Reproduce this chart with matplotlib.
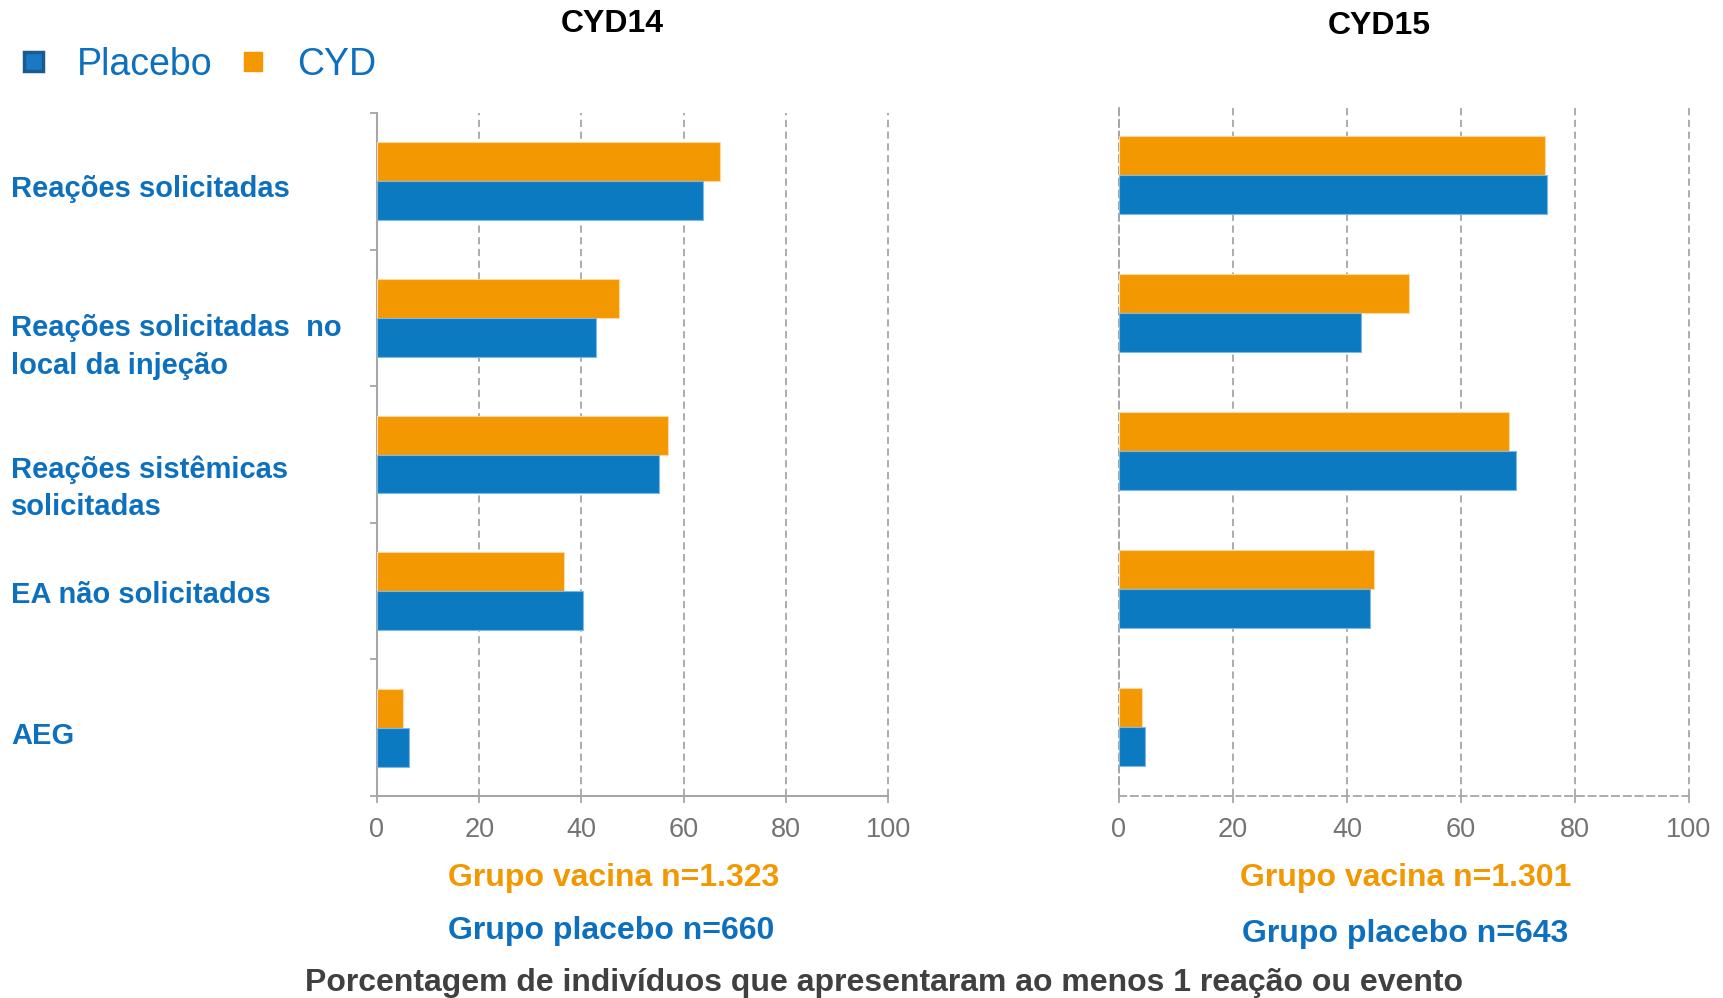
import matplotlib
matplotlib.use("Agg")
import matplotlib.pyplot as plt
import numpy as np
from matplotlib.patches import Patch

plt.rcParams['font.family'] = ['Liberation Sans', 'DejaVu Sans']

# data: % of subjects with at least 1 reaction / event
categories = ["Reações solicitadas",
              "Reações solicitadas  no\nlocal da injeção",
              "Reações sistêmicas\nsolicitadas",
              "EA não solicitados",
              "AEG"]
cyd14_vacina = [67.1, 47.4, 57.0, 36.6, 5.1]
cyd14_placebo = [63.7, 42.9, 55.2, 40.3, 6.3]
cyd15_vacina = [74.8, 50.8, 68.4, 44.7, 4.1]
cyd15_placebo = [75.1, 42.4, 69.6, 44.1, 4.5]
studies = ["CYD14", "CYD15"]
n_vacina = ["1.323", "1.301"]
n_placebo = ["660", "643"]
xticks = [0, 20, 40, 60, 80, 100]

ORANGE = "#f39800"
BLUE = "#0b7ac1"
LBLUE = "#0d70bf"
GRID = "#a6a6a6"
DASH = (0, (4, 2.5))

W, H = 1724, 998
fig = plt.figure(figsize=(W / 100, H / 100), dpi=100)


def px(x, y):
    return x / W, 1 - y / H


def ax_rect(x0, x1, ytop, ybot):
    return [x0 / W, 1 - ybot / H, (x1 - x0) / W, (ybot - ytop) / H]


ax1 = fig.add_axes(ax_rect(377, 888, 113, 796))
ax2 = fig.add_axes(ax_rect(1119, 1689, 106, 796))

pos = np.arange(len(categories))
h = 0.285

for ax, vac, plc in [(ax1, cyd14_vacina, cyd14_placebo), (ax2, cyd15_vacina, cyd15_placebo)]:
    ax.barh(pos - h / 2, vac, height=h, color=ORANGE, edgecolor="#fbd9a0", linewidth=0.8, zorder=3)
    ax.barh(pos + h / 2, plc, height=h, color=BLUE, edgecolor="#7fb8e2", linewidth=0.8, zorder=3)
    ax.set_xlim(0, 100)
    ax.set_ylim(len(categories) - 0.5, -0.5)
    ax.set_xticks(xticks)
    ax.xaxis.grid(True, color=GRID, linestyle=DASH, linewidth=1.3, zorder=0)
    for gl in ax.get_xgridlines():
        gl.set_clip_on(False)
    ax.tick_params(axis='x', colors=GRID, labelcolor="#737373", labelsize=19.5,
                   length=5, width=1.3, pad=10)
    for s in ["top", "right"]:
        ax.spines[s].set_visible(False)
    ax.set_facecolor("none")

# left panel: solid axis lines with ticks between categories
for s in ["left", "bottom"]:
    ax1.spines[s].set_color(GRID)
    ax1.spines[s].set_linewidth(1.5)
ax1.set_yticks(np.arange(len(categories) + 1) - 0.5)
ax1.set_yticklabels([])
ax1.tick_params(axis='y', colors=GRID, length=5, width=1.3)

# right panel: dashed axis lines, no y ticks
for s in ["left", "bottom"]:
    ax2.spines[s].set_color(GRID)
    ax2.spines[s].set_linewidth(1.3)
    ax2.spines[s].set_linestyle(DASH)
ax2.set_yticks([])

# category labels
label_y = [189, 347, 488, 595, 736]
for lab, yy in zip(categories, label_y):
    fig.text(*px(11, yy), lab, color=LBLUE, fontsize=21, fontweight="bold",
             ha="left", va="center", linespacing=1.42)

# panel titles
fig.text(*px(612, 24), studies[0], fontsize=23, fontweight="bold", ha="center", va="center")
fig.text(*px(1379, 26), studies[1], fontsize=23, fontweight="bold", ha="center", va="center")

# group sizes under each panel
fig.text(*px(614, 878), "Grupo vacina n=" + n_vacina[0], color=ORANGE, fontsize=23,
         fontweight="bold", ha="center", va="center")
fig.text(*px(611, 931), "Grupo placebo n=" + n_placebo[0], color=LBLUE, fontsize=23,
         fontweight="bold", ha="center", va="center")
fig.text(*px(1406, 878), "Grupo vacina n=" + n_vacina[1], color=ORANGE, fontsize=23,
         fontweight="bold", ha="center", va="center")
fig.text(*px(1405, 934), "Grupo placebo n=" + n_placebo[1], color=LBLUE, fontsize=23,
         fontweight="bold", ha="center", va="center")

fig.text(*px(884, 983), "Porcentagem de indivíduos que apresentaram ao menos 1 reação ou evento",
         color="#404040", fontsize=23, fontweight="bold", ha="center", va="center")

# legend
handles = [Patch(facecolor="#1b78c2", edgecolor="#1a5a92", linewidth=2.5, label="Placebo"),
           Patch(facecolor=ORANGE, edgecolor=ORANGE, label="CYD")]
leg = fig.legend(handles=handles, loc="upper left", bbox_to_anchor=px(24, 47), ncol=2,
                 frameon=False, fontsize=27, handlelength=0.5, handleheight=0.4,
                 handletextpad=0.92, columnspacing=0.82, borderpad=0, borderaxespad=0)
for t in leg.get_texts():
    t.set_color(LBLUE)

fig.savefig("out.png", dpi=100)
